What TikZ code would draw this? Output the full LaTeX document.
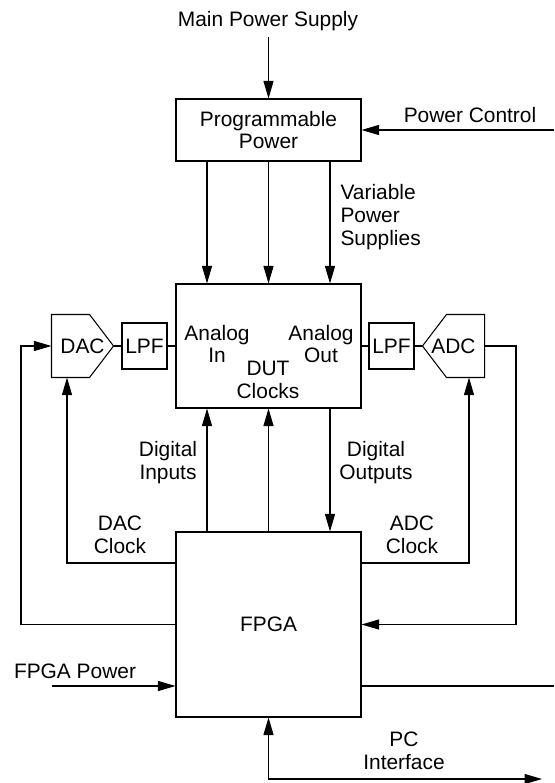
\documentclass[tikz,border=0pt]{standalone}
\usepackage{fontspec}
\setmainfont{Liberation Sans}
\usepackage{tikz}
\usetikzlibrary{
    arrows.meta
}

\tikzset{
    blk/.style={draw,rectangle,inner sep=0pt,align=center},
    cnv/.style={rectangle,inner sep=0pt,minimum width=1.22cm,minimum height=1.24cm},
    lbl/.style={align=center,inner sep=0pt},
    arr/.style={-{Triangle[length=3.5mm,width=2mm]}},
    darr/.style={{Triangle[length=3.5mm,width=2mm]}-{Triangle[length=3.5mm,width=2mm]}}
}

\begin{document}
\begin{tikzpicture}[x=0.02cm,y=-0.02cm,line width=0.6pt,
    font=\fontsize{11.9}{13}\selectfont]
%\draw [help lines,step=50](0,0) grid (554,783);
\useasboundingbox (0,0) rectangle (554,783);
\node [blk,minimum width=3.7cm,minimum height=1.24cm] (PP) at (268.5,130) {Programmable\\Power};
\node [blk,minimum width=3.7cm,minimum height=2.48cm] (DUT) at (268.5,346) {};
\node [blk,minimum width=3.7cm,minimum height=3.7cm] (FPGA) at (268.5,624.5) {FPGA};
\node [blk,minimum width=0.9cm,minimum height=0.92cm] (LPFa) at (144.5,346) {LPF};
\node [blk,minimum width=0.9cm,minimum height=0.92cm] (LPFb) at (391.5,346) {LPF};
\node [cnv] (DAC) at (82.5,346) {DAC};
\node [cnv] (ADC) at (453.5,346) {ADC};
% converter outlines
\draw (DAC.north west) -- ([xshift=-0.48cm]DAC.north east) -- (DAC.east)
    -- ([xshift=-0.48cm]DAC.south east) -- (DAC.south west) -- cycle;
\draw (ADC.north east) -- ([xshift=0.48cm]ADC.north west) -- (ADC.west)
    -- ([xshift=0.48cm]ADC.south west) -- (ADC.south east) -- cycle;
% texts
\node [lbl] (ain) at (217,344) {Analog\\In};
\node [lbl] (aout) at (321,344) {Analog\\Out};
\node [lbl] (clk) at (268,380) {DUT\\Clocks};
\node [lbl] (mpst) at (268,21) {Main Power Supply};
\node [lbl] (pct) at (470,115) {Power Control};
\node [lbl,align=left,anchor=west] (vps) at (340,217) {Variable\\Power\\Supplies};
\node [lbl] (dit) at (168,463) {Digital\\Inputs};
\node [lbl] (dot) at (376,463) {Digital\\Outputs};
\node [lbl] (dct) at (120,535) {DAC\\Clock};
\node [lbl] (act) at (412,535) {ADC\\Clock};
\node [lbl] (fpt) at (75,671) {FPGA Power};
\node [lbl] (pcit) at (404,751) {PC\\Interface};
% free ends
\coordinate (mps) at (268.5,37);
\coordinate (pc) at (554,130);
\coordinate (outL) at (21,346);
\coordinate (outR) at (516,346);
\coordinate (dacclk) at (67,563);
\coordinate (adcclk) at (469,563);
\coordinate (fpw) at (52,686);
\coordinate (fout) at (554,686);
\coordinate (pcif) at (542,779);
% power
\draw [arr] (mps) -- (PP.north);
\draw [arr] (pc) -- (PP.east);
\foreach \dx in {-1,0,1}
    \draw [arr] ([xshift=\dx*1.23cm]PP.south) -- ([xshift=\dx*1.23cm]DUT.north);
% analog chain
\draw (DAC.east) -- (LPFa.west);
\draw (LPFa.east) -- (DUT.west);
\draw (DUT.east) -- (LPFb.west);
\draw (LPFb.east) -- (ADC.west);
\draw [arr] (FPGA.west) -| (outL) -- (DAC.west);
\draw [arr] (ADC.east) -- (outR) |- (FPGA.east);
\draw [arr] (FPGA.west |- dacclk) -| (DAC.south -| dacclk);
\draw [arr] (FPGA.east |- adcclk) -| (ADC.south -| adcclk);
% digital
\draw [arr] ([xshift=-1.23cm]FPGA.north) -- ([xshift=-1.23cm]DUT.south);
\draw [arr] (FPGA.north) -- (DUT.south);
\draw [arr] ([xshift=1.23cm]DUT.south) -- ([xshift=1.23cm]FPGA.north);
\draw [arr] (fpw) -- (fpw -| FPGA.west);
\draw (FPGA.east |- fout) -- (fout);
\draw [darr] (FPGA.south) |- (pcif);
\end{tikzpicture}
\end{document}
